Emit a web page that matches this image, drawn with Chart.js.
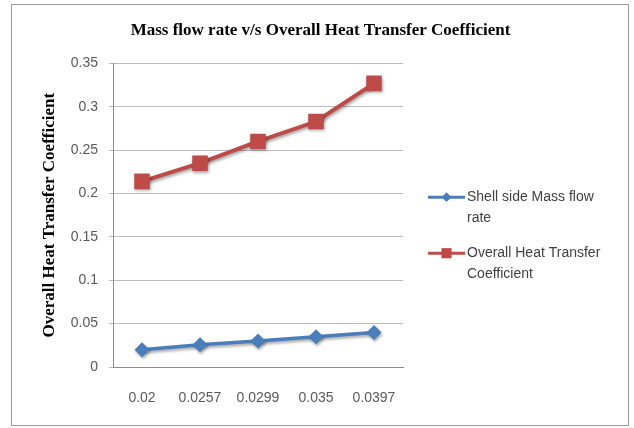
<!DOCTYPE html>
<html>
<head>
<meta charset="utf-8">
<script src="https://cdn.jsdelivr.net/npm/chart.js@4/dist/chart.umd.min.js"></script>
<style>
  html, body { margin: 0; padding: 0; background: #fff; }
  #wrap { width: 634px; height: 428px; }
</style>
</head>
<body>
<div id="wrap"><canvas id="myChart" width="634" height="428"></canvas></div>
<script>
const FLOW_LABELS = ['0.02', '0.0257', '0.0299', '0.035', '0.0397'];
const SHELL_FLOW = [0.02, 0.0257, 0.0299, 0.035, 0.0397];
const HEAT_COEFF = [0.214, 0.235, 0.26, 0.283, 0.327];

const SERIES_NAMES = ['Shell side Mass flow rate', 'Overall Heat Transfer Coefficient'];
const BLUE = '#4a7ebb';
const RED = '#be4b48';

const TICK_FONT = { family: '"Liberation Sans", Arial, sans-serif', size: 14 };
const SERIF_BOLD = { family: '"Liberation Serif", "Times New Roman", serif', size: 17, weight: 'bold' };

// white background + thin frame round the whole chart
const frame = {
  id: 'frame',
  beforeDraw(chart) {
    const c = chart.ctx;
    c.save();
    c.fillStyle = '#fff';
    c.fillRect(0, 0, chart.width, chart.height);
    c.strokeStyle = '#9a9a9a';
    c.lineWidth = 1;
    c.strokeRect(11.5, 4.5, chart.width - 17, chart.height - 7);
    c.restore();
  }
};

// soft drop shadow under the lines, like the office chart style
const lineShadow = {
  id: 'lineShadow',
  beforeDatasetDraw(chart) {
    const c = chart.ctx;
    c.save();
    c.shadowColor = 'rgba(0,0,0,0.35)';
    c.shadowBlur = 3;
    c.shadowOffsetX = 1;
    c.shadowOffsetY = 2;
  },
  afterDatasetDraw(chart) {
    chart.ctx.restore();
  }
};

function wrapText(c, text, maxWidth) {
  const words = text.split(' ');
  const lines = [];
  let line = '';
  words.forEach((w) => {
    const test = line ? line + ' ' + w : w;
    if (c.measureText(test).width > maxWidth && line) {
      lines.push(line);
      line = w;
    } else {
      line = test;
    }
  });
  if (line) lines.push(line);
  return lines;
}

// legend on the right: line + marker, with wrapped names
function drawSideLegend(chart, box) {
  const c = chart.ctx;
  const area = chart.chartArea;
  const midY = (area.top + area.bottom) / 2;
  c.save();
  c.font = `${TICK_FONT.size}px ${TICK_FONT.family}`;
  c.textBaseline = 'middle';
  chart.data.datasets.forEach((ds, i) => {
    const y = midY - 18 + i * 56;
    const x0 = box.left + 25;
    const x1 = box.left + 62;
    c.strokeStyle = ds.borderColor;
    c.lineWidth = 3;
    c.beginPath();
    c.moveTo(x0, y);
    c.lineTo(x1, y);
    c.stroke();
    c.fillStyle = ds.pointBackgroundColor;
    Chart.helpers.drawPoint(c, {
      pointStyle: ds.pointStyle,
      radius: ds.pointRadius * 0.65,
      borderWidth: 0
    }, (x0 + x1) / 2, y);
    c.fillStyle = '#404040';
    const lines = wrapText(c, ds.label, 150);
    lines.forEach((ln, k) => c.fillText(ln, x1 + 2, y + k * 21));
  });
  c.restore();
}

const sideLegend = {
  id: 'sideLegend',
  beforeInit(chart) {
    const box = {
      position: 'right',
      weight: 0,
      fullSize: false,
      options: {},
      width: 0,
      height: 0,
      isHorizontal() { return false; },
      update(maxWidth, maxHeight) {
        this.width = 226;
        this.height = maxHeight;
      },
      draw() { drawSideLegend(chart, this); }
    };
    Chart.layouts.addBox(chart, box);
  }
};

const ctx = document.getElementById('myChart').getContext('2d');

const myChart = new Chart(ctx, {
  type: 'line',
  data: {
    labels: FLOW_LABELS,
    datasets: [
      {
        label: SERIES_NAMES[0],
        data: SHELL_FLOW,
        borderColor: BLUE,
        backgroundColor: BLUE,
        pointBackgroundColor: BLUE,
        pointBorderColor: BLUE,
        pointBorderWidth: 0,
        borderWidth: 3.5,
        pointStyle: 'rectRot',
        pointRadius: 7.5,
        tension: 0,
        fill: false
      },
      {
        label: SERIES_NAMES[1],
        data: HEAT_COEFF,
        borderColor: RED,
        backgroundColor: RED,
        pointBackgroundColor: RED,
        pointBorderColor: RED,
        pointBorderWidth: 0,
        borderWidth: 4,
        pointStyle: 'rect',
        pointRadius: 11,
        tension: 0,
        fill: false
      }
    ]
  },
  options: {
    responsive: false,
    animation: false,
    layout: { padding: { left: 12, right: 5, top: 3, bottom: 0 } },
    plugins: {
      legend: { display: false },
      tooltip: { enabled: false },
      title: {
        display: true,
        text: 'Mass flow rate v/s Overall Heat Transfer Coefficient',
        color: '#000',
        font: SERIF_BOLD,
        padding: { top: 17, bottom: 23 }
      }
    },
    scales: {
      x: {
        offset: true,
        grid: { display: false, drawTicks: false },
        border: { display: true, color: '#8c8c8c', width: 1 },
        ticks: { color: '#595959', font: TICK_FONT, padding: 23, maxRotation: 0 },
        afterFit(scale) { scale.height = 61; }
      },
      y: {
        min: 0,
        max: 0.35,
        grid: { color: '#bdbdbd', lineWidth: 1, tickLength: 4 },
        border: { display: true, color: '#8c8c8c', width: 1 },
        ticks: {
          stepSize: 0.05,
          color: '#595959',
          font: TICK_FONT,
          padding: 11,
          callback: (v) => String(+v.toFixed(2))
        },
        title: {
          display: true,
          text: 'Overall Heat Transfer Coefficient',
          color: '#000',
          font: SERIF_BOLD,
          padding: { top: 27, bottom: 0 }
        },
        afterFit(scale) { scale.width = 101; }
      }
    }
  },
  plugins: [frame, lineShadow, sideLegend]
});
</script>
</body>
</html>
